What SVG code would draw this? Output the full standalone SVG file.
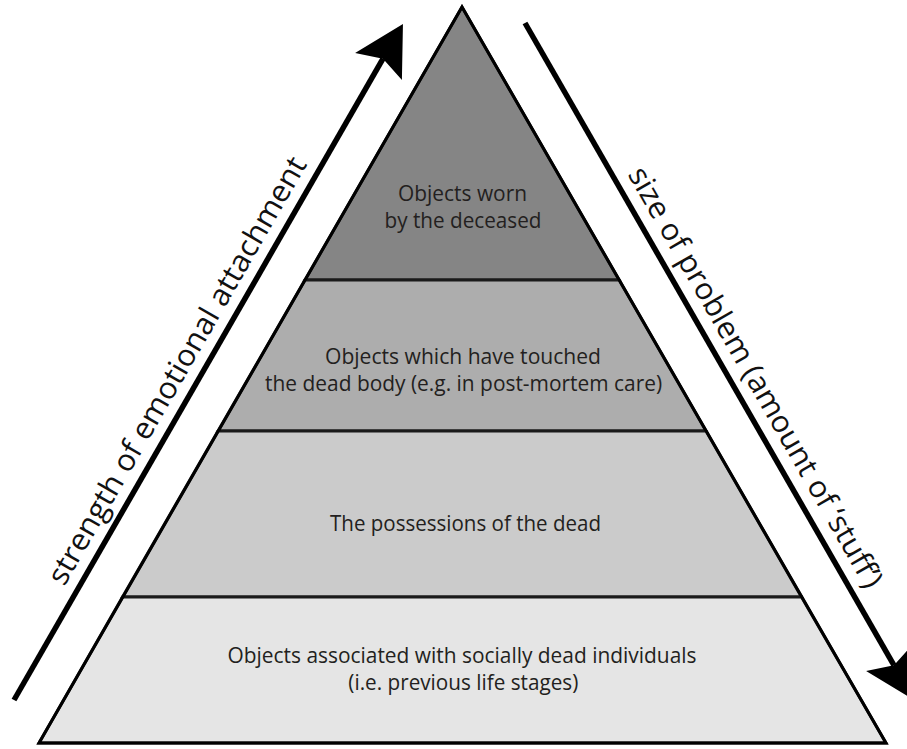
<svg xmlns="http://www.w3.org/2000/svg" width="907" height="749" viewBox="0 0 907 749">
  <style>
    .layer { stroke: #1a1a1a; stroke-width: 3; stroke-linejoin: miter; }
    .lbl { font-family: "Open Sans", "Liberation Sans", sans-serif; font-size: 21px; fill: #231f20; text-anchor: middle; }
    .side { font-family: "Open Sans", "Liberation Sans", sans-serif; font-size: 30px; fill: #111; text-anchor: middle; }
    .arrow { stroke: #000; stroke-width: 5.5; fill: none; stroke-linecap: butt; }
  </style>
  <defs>
    <marker id="head" markerUnits="userSpaceOnUse" orient="auto" refX="0" refY="0" markerWidth="60" markerHeight="60" viewBox="-12 -30 56 60" overflow="visible">
      <path d="M40,0 L-9,-27 L0,0 L-9,27 Z" fill="#000"/>
    </marker>
  </defs>
  <rect width="907" height="749" fill="#fff"/>

  <g id="layer-worn">
    <polygon class="layer" points="462,7 619.1,280 304.9,280" fill="#858585"/>
    <text class="lbl" x="462.5" y="201" textLength="129" lengthAdjust="spacingAndGlyphs">Objects worn</text>
    <text class="lbl" x="463" y="227.5" textLength="157" lengthAdjust="spacingAndGlyphs">by the deceased</text>
  </g>

  <g id="layer-touched">
    <polygon class="layer" points="304.9,280 619.1,280 706,431 218,431" fill="#adadad"/>
    <text class="lbl" x="463" y="363.5" textLength="276" lengthAdjust="spacingAndGlyphs">Objects which have touched</text>
    <text class="lbl" x="463.6" y="391" textLength="397" lengthAdjust="spacingAndGlyphs">the dead body (e.g. in post-mortem care)</text>
  </g>

  <g id="layer-possessions">
    <polygon class="layer" points="218,431 706,431 801.5,597 122.5,597" fill="#cbcbcb"/>
    <text class="lbl" x="465.5" y="531" textLength="271" lengthAdjust="spacingAndGlyphs">The possessions of the dead</text>
  </g>

  <g id="layer-socially-dead">
    <polygon class="layer" points="122.5,597 801.5,597 886,743 39,743" fill="#e5e5e5"/>
    <text class="lbl" x="462" y="663" textLength="469" lengthAdjust="spacingAndGlyphs">Objects associated with socially dead individuals</text>
    <text class="lbl" x="463.3" y="689.5" textLength="230" lengthAdjust="spacingAndGlyphs">(i.e. previous life stages)</text>
  </g>

  <g id="outline">
    <polygon points="462,7 886,743 39,743" fill="none" stroke="#000" stroke-width="3" stroke-linejoin="miter"/>
  </g>

  <g id="connectors">
    <g id="arrow-attachment">
      <line class="arrow" x1="14" y1="700" x2="383" y2="58.7" marker-end="url(#head)"/>
      <text class="side" transform="translate(185.8,375.6) rotate(-60.1)" textLength="488" lengthAdjust="spacingAndGlyphs">strength of emotional attachment</text>
    </g>
    <g id="arrow-problem">
      <line class="arrow" x1="525" y1="23" x2="894" y2="665.3" marker-end="url(#head)"/>
      <text class="side" transform="translate(746.9,382.4) rotate(60.1)" textLength="480" lengthAdjust="spacingAndGlyphs">size of problem (amount of ‘stuff’)</text>
    </g>
  </g>
</svg>
